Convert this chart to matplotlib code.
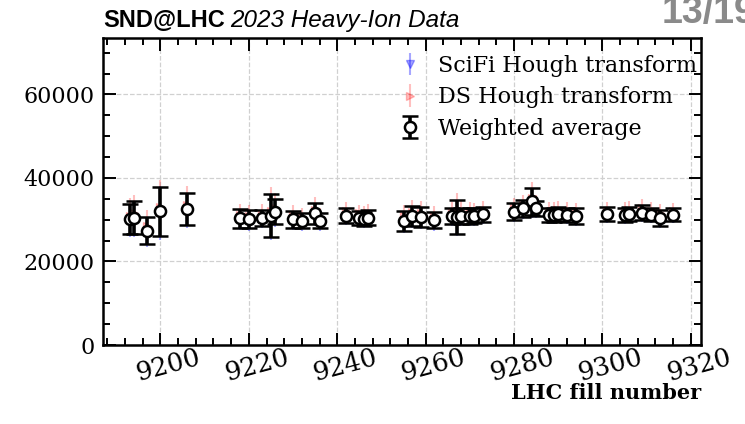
import matplotlib
matplotlib.use("Agg")
import matplotlib.pyplot as plt
import matplotlib.transforms as mtrans
from matplotlib.ticker import MultipleLocator

# ---- data ----
fills = [9193, 9194, 9197, 9200, 9206,
         9218, 9220, 9223, 9225, 9226,
         9230, 9232, 9235, 9236,
         9242, 9245, 9246, 9247,
         9255, 9257, 9259, 9262,
         9266, 9267, 9268, 9270, 9271, 9273,
         9280, 9282, 9284, 9285, 9288, 9289, 9290, 9292, 9294,
         9301, 9305, 9306, 9309, 9311, 9313, 9316]

avg_val = [30100, 30500, 27400, 32000, 32600,
           30300, 30100, 30400, 31000, 31900,
           30100, 29700, 31500, 29700,
           31000, 30500, 30100, 30500,
           29800, 30800, 30700, 29900,
           30900, 30600, 30900, 30900, 30900, 31300,
           31900, 32700, 34400, 32700, 31200, 31200, 31300, 31200, 30800,
           31300, 31100, 31300, 31700, 31200, 30500, 31200]
avg_err = [3600, 4000, 3300, 5900, 3900,
           2200, 2200, 2000, 5200, 3000,
           2000, 1800, 2600, 1800,
           1800, 1700, 1700, 1800,
           2400, 2400, 2400, 2000,
           2000, 4000, 2000, 2000, 1800, 1800,
           2000, 2000, 3300, 1800, 1700, 1700, 1700, 1700, 1900,
           1700, 1700, 1700, 1800, 1600, 1900, 1600]

scifi_val = [29800, 30200, 27100, 31600, 32300,
             30000, 29800, 30100, 30700, 31600,
             29800, 29400, 31200, 29400,
             30700, 30200, 29800, 30200,
             29500, 30500, 30400, 29600,
             30600, 30300, 30600, 30600, 30600, 31000,
             31600, 32400, 34100, 32400, 30900, 30900, 31000, 30900, 30500,
             31000, 30800, 31000, 31400, 30900, 30200, 30900]
scifi_err = [3900, 4300, 3600, 6400, 4200,
             2400, 2400, 2200, 5600, 3300,
             2200, 2000, 2800, 2000,
             2000, 1900, 1900, 2000,
             2600, 2600, 2600, 2200,
             2200, 4300, 2200, 2200, 2000, 2000,
             2200, 2200, 3600, 2000, 1900, 1900, 1900, 1900, 2100,
             1900, 1900, 1900, 2000, 1800, 2100, 1800]

ds_val = [31000, 31500, 28400, 33000, 33600,
          31200, 31000, 31400, 32000, 32800,
          31000, 30700, 32400, 30700,
          32000, 31500, 31100, 31500,
          30800, 31800, 31700, 30900,
          31900, 31700, 32000, 31900, 31900, 32300,
          32900, 33600, 35300, 33600, 32200, 32200, 32300, 32200, 31800,
          32200, 32100, 32300, 32700, 32200, 31500, 32100]
ds_err = [4200, 4500, 3900, 6500, 4400,
          2600, 2600, 2400, 5800, 3500,
          2400, 2200, 3000, 2200,
          2200, 2100, 2100, 2200,
          2800, 2800, 2800, 2400,
          2400, 4600, 2400, 2400, 2200, 2200,
          2400, 2400, 3800, 2200, 2100, 2100, 2100, 2100, 2300,
          2100, 2100, 2100, 2200, 2000, 2300, 2000]

x_ticks = [9200, 9220, 9240, 9260, 9280, 9300, 9320]
y_ticks = [0, 20000, 40000, 60000]

# ---- figure ----
fig = plt.figure(figsize=(7.45, 4.24), dpi=100)
ax = fig.add_axes([103/745, 1 - 345/424, (701 - 103)/745, (345 - 38)/424])

serif = "DejaVu Serif"

ax.errorbar(fills, scifi_val, yerr=scifi_err, fmt="v", color="blue", alpha=0.35,
            markersize=6, elinewidth=1.5, capsize=0, label="SciFi Hough transform", zorder=2)
ax.errorbar(fills, ds_val, yerr=ds_err, fmt=">", color="red", alpha=0.25,
            markersize=6, elinewidth=1.5, capsize=0, label="DS Hough transform", zorder=3)
ax.errorbar(fills, avg_val, yerr=avg_err, fmt="o", color="black", mfc="white", mec="black",
            markersize=8, mew=1.8, elinewidth=2.6, capsize=6, capthick=2.6,
            label="Weighted average", zorder=4)

ax.set_xlim(9187, 9322.3)
ax.set_ylim(0, 73500)
ax.set_xticks(x_ticks)
ax.set_yticks(y_ticks)
ax.xaxis.set_minor_locator(MultipleLocator(4))
ax.yaxis.set_minor_locator(MultipleLocator(5000))
ax.tick_params(which="both", direction="in", top=True, right=True, width=1.4)
ax.tick_params(which="major", length=9)
ax.tick_params(which="minor", length=5)
ax.tick_params(axis="y", which="major", pad=6)
ax.tick_params(axis="x", which="major", pad=2)
for lab in ax.get_yticklabels():
    lab.set_fontfamily(serif)
    lab.set_fontsize(16)
ax.set_xticklabels([str(t) for t in x_ticks], rotation=15, ha="center",
                   fontfamily=serif, fontsize=18.5)
shift = mtrans.ScaledTranslation(8/100, 3/100, fig.dpi_scale_trans)
for lab in ax.get_xticklabels():
    lab.set_transform(lab.get_transform() + shift)
for s in ax.spines.values():
    s.set_linewidth(1.8)
ax.grid(True, which="major", linestyle="--", color="#d0d0d0", linewidth=0.9)
ax.set_axisbelow(True)

ax.set_xlabel("LHC fill number", fontfamily=serif, fontweight="bold", fontsize=15,
              ha="right", va="center")
ax.xaxis.set_label_coords(1.0, (345 - 393) / 307)

leg = ax.legend(loc="upper right", bbox_to_anchor=(0.997, 0.952), frameon=False,
                prop={"family": serif, "size": 16},
                handlelength=1.4, handletextpad=0.55, borderaxespad=0.0,
                labelspacing=0.42, borderpad=0.1)

fig.text(103/745, 1 - 27/424, "SND@LHC", fontfamily="Liberation Sans", fontweight="bold",
         fontsize=17, va="baseline")
fig.text(230/745, 1 - 27/424, "2023 Heavy-Ion Data", fontfamily="Liberation Sans",
         fontstyle="italic", fontsize=17.5, va="baseline")
fig.text(662/745, 1 - 23/424, "13/19", fontfamily="Liberation Sans", color="#8a8a8a",
         fontsize=27, fontweight="bold", va="baseline")

fig.savefig("out.png", dpi=100)
